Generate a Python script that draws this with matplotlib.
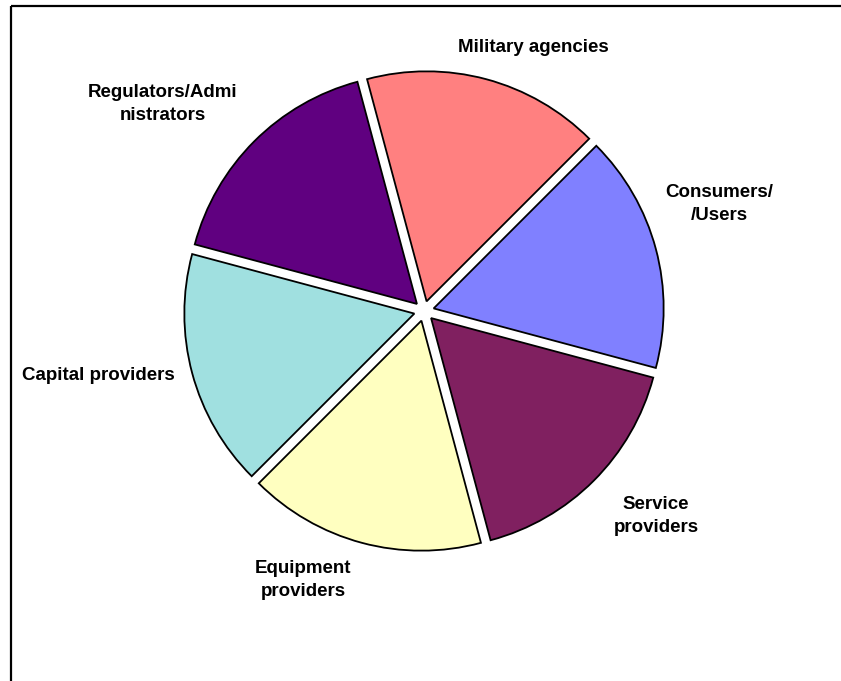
import matplotlib
matplotlib.use("Agg")
import matplotlib.pyplot as plt
from matplotlib.lines import Line2D

categories = ["Military agencies", "Consumers/\n/Users", "Service\nproviders",
              "Equipment\nproviders", "Capital providers", "Regulators/Admi\nnistrators"]
values = [1, 1, 1, 1, 1, 1]
colors = ["#FF8080", "#8080FF", "#802060", "#FFFFC0", "#A0E0E0", "#600080"]

# label centres in pixel coordinates (x, y from top)
label_pos = [(533, 47), (719, 204), (656, 516), (303, 580), (98, 376), (163, 104)]

W, H = 841, 681
fig = plt.figure(figsize=(W / 100, H / 100), dpi=100)
ax = fig.add_axes([0, 0, 1, 1])

cx, cy = 424, H - 311
ax.pie(values, colors=colors, startangle=105, counterclock=False,
       explode=[10] * len(values), radius=230, center=(cx, cy),
       wedgeprops=dict(edgecolor="black", linewidth=1.3))

for lab, (x, y) in zip(categories, label_pos):
    ax.text(x, H - y, lab, ha="center", va="center", fontsize=13.5,
            fontweight="bold", family="Liberation Sans", linespacing=1.5)

ax.set_xlim(0, W)
ax.set_ylim(0, H)
ax.set_aspect("equal")
ax.axis("off")

# frame lines (top and left)
ax.add_line(Line2D([11, W], [H - 6, H - 6], color="black", linewidth=1.6, solid_capstyle="butt"))
ax.add_line(Line2D([11, 11], [H - 6, 0], color="black", linewidth=1.6, solid_capstyle="butt"))

fig.savefig("out.png", dpi=100)
